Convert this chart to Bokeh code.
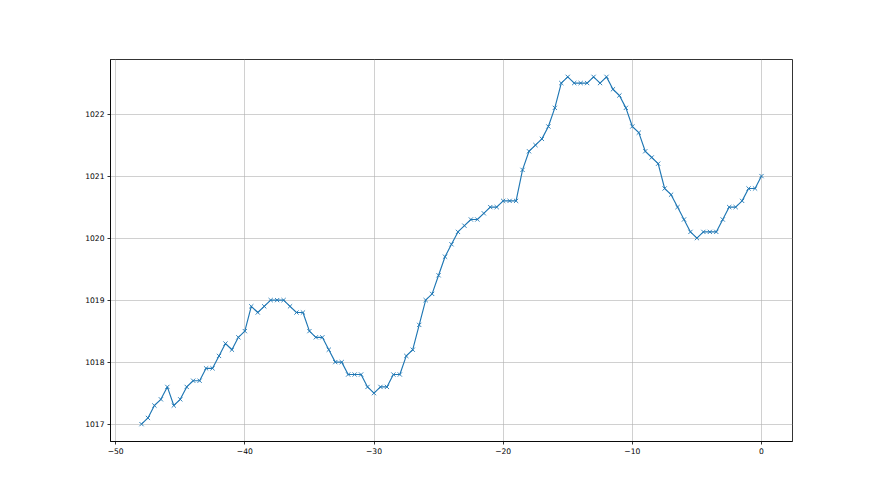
from bokeh.plotting import figure
from bokeh.models import FixedTicker, Range1d, BasicTickFormatter
from bokeh.embed import file_html
from bokeh.resources import INLINE

x_vals = [i * 0.5 - 48 for i in range(97)]
pressure = [
    1017.0, 1017.1, 1017.3, 1017.4, 1017.6, 1017.3, 1017.4, 1017.6, 1017.7, 1017.7,
    1017.9, 1017.9, 1018.1, 1018.3, 1018.2, 1018.4, 1018.5, 1018.9, 1018.8, 1018.9,
    1019.0, 1019.0, 1019.0, 1018.9, 1018.8, 1018.8, 1018.5, 1018.4, 1018.4, 1018.2,
    1018.0, 1018.0, 1017.8, 1017.8, 1017.8, 1017.6, 1017.5, 1017.6, 1017.6, 1017.8,
    1017.8, 1018.1, 1018.2, 1018.6, 1019.0, 1019.1, 1019.4, 1019.7, 1019.9, 1020.1,
    1020.2, 1020.3, 1020.3, 1020.4, 1020.5, 1020.5, 1020.6, 1020.6, 1020.6, 1021.1,
    1021.4, 1021.5, 1021.6, 1021.8, 1022.1, 1022.5, 1022.6, 1022.5, 1022.5, 1022.5,
    1022.6, 1022.5, 1022.6, 1022.4, 1022.3, 1022.1, 1021.8, 1021.7, 1021.4, 1021.3,
    1021.2, 1020.8, 1020.7, 1020.5, 1020.3, 1020.1, 1020.0, 1020.1, 1020.1, 1020.1,
    1020.3, 1020.5, 1020.5, 1020.6, 1020.8, 1020.8, 1021.0,
]
x_ticks = [-50, -40, -30, -20, -10, 0]
y_ticks = [1017, 1018, 1019, 1020, 1021, 1022]

xmin, xmax = min(x_vals), max(x_vals)
ymin, ymax = min(pressure), max(pressure)
xm = (xmax - xmin) * 0.05
ym = (ymax - ymin) * 0.05

p = figure(
    frame_width=682, frame_height=382,
    min_border_left=110, min_border_top=59, min_border_right=80, min_border_bottom=46,
    output_backend="svg", toolbar_location=None,
    x_range=Range1d(xmin - xm, xmax + xm), y_range=Range1d(ymin - ym, ymax + ym),
)
p.background_fill_color = "white"
p.border_fill_color = "white"
p.outline_line_color = "black"
p.outline_line_width = 0.8

for ax in (p.xaxis[0], p.yaxis[0]):
    ax.axis_line_color = "black"
    ax.axis_line_width = 0.8
    ax.major_tick_in = 0
    ax.major_tick_out = 3
    ax.major_tick_line_color = "black"
    ax.major_tick_line_width = 0.8
    ax.minor_tick_line_color = None
    ax.major_label_text_font = "DejaVu Sans"
    ax.major_label_text_font_size = "7.6px"
    ax.major_label_text_color = "black"
    ax.major_label_standoff = 3
    ax.formatter = BasicTickFormatter(use_scientific=False)

p.xaxis.ticker = FixedTicker(ticks=x_ticks)
p.yaxis.ticker = FixedTicker(ticks=y_ticks)
p.grid.grid_line_color = "#b0b0b0"
p.grid.grid_line_width = 0.6
p.xgrid.ticker = FixedTicker(ticks=x_ticks)
p.ygrid.ticker = FixedTicker(ticks=y_ticks)

p.line(x_vals, pressure, line_color="#1f77b4", line_width=1.15)
p.scatter(x_vals, pressure, marker="x", size=6, line_color="#1f77b4", line_width=0.9)

open("out.html", "w").write(file_html(p, INLINE))
